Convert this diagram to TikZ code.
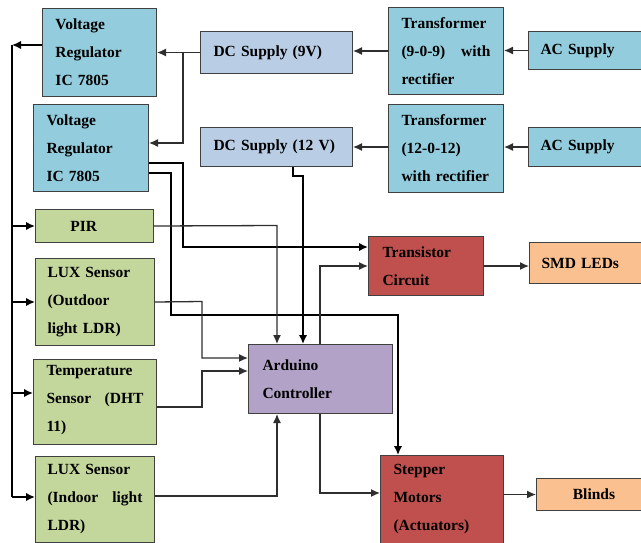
\documentclass[tikz,border=0pt]{standalone}
\usepackage{fontspec}
\setmainfont{Liberation Serif}
\usetikzlibrary{arrows.meta}
\definecolor{aqua}{HTML}{93CDDD}
\definecolor{steel}{HTML}{B9CDE5}
\definecolor{leaf}{HTML}{C3D69B}
\definecolor{lilac}{HTML}{B3A2C7}
\definecolor{brick}{HTML}{C0504D}
\definecolor{peach}{HTML}{FAC08F}
\definecolor{edge}{HTML}{404040}
\definecolor{wire}{HTML}{2E2E2E}
\begin{document}
\begin{tikzpicture}[x=1pt,y=-1pt,
  box/.style={draw=edge, line width=1pt, inner xsep=13pt, inner ysep=0pt,
    align=left, anchor=north west, text=black,
    font=\fontsize{15.5}{28}\selectfont\bfseries},
  thin/.style={draw=wire, line width=1.3pt, -{Latex[length=9pt,width=8pt]}},
  thick/.style={draw=black, line width=2.6pt, -{Latex[length=9pt,width=8.5pt]}},
  thickline/.style={draw=black, line width=2.6pt}]
\useasboundingbox (0,0) rectangle (641,542);
% boxes
\node[box, fill=aqua, text width=88pt, minimum height=88pt] (vr1) at (42,8) {Voltage\\Regulator\\IC 7805};
\node[box, fill=aqua, text width=89pt, minimum height=87pt] (vr2) at (33,104) {Voltage\\Regulator\\IC 7805};
\node[box, fill=steel, text width=126pt, minimum height=42pt] (dc9) at (200,31) {DC Supply (9V)};
\node[box, fill=steel, text width=126pt, minimum height=39pt] (dc12) at (200,127) {DC Supply (12 V)};
\node[box, fill=aqua, text width=89pt, minimum height=87pt] (tr1) at (388,7) {Transformer\\(9-0-9)\hfill with\\rectifier};
\node[box, fill=aqua, text width=89pt, minimum height=88pt] (tr2) at (388,104) {Transformer\\(12-0-12)\\with rectifier};
\node[box, fill=aqua, text width=90pt, minimum height=38pt, inner xsep=12pt] (ac1) at (528,31) {AC Supply};
\node[box, fill=aqua, text width=90pt, minimum height=39pt, inner xsep=12pt] (ac2) at (528,127) {AC Supply};
\node[box, fill=leaf, text width=92pt, minimum height=33pt] (pir) at (35,209) {\hspace*{22pt}PIR};
\node[box, fill=leaf, text width=95pt, minimum height=87pt, inner xsep=12pt] (luxo) at (35,258) {LUX Sensor\\(Outdoor\\light LDR)};
\node[box, fill=leaf, text width=97pt, minimum height=85pt] (temp) at (33,359) {Temperature\\Sensor\hfill(DHT\\11)\rule[-7pt]{0pt}{1pt}};
\node[box, fill=leaf, text width=95pt, minimum height=86pt, inner xsep=12pt] (luxi) at (35,456) {LUX Sensor\\(Indoor\hfill light\\LDR)};
\node[box, fill=lilac, text width=116pt, minimum height=69pt, inner xsep=14pt] (ard) at (248,344) {Arduino\\Controller};
\node[box, fill=brick, text width=87pt, minimum height=59pt, inner xsep=14pt] (trn) at (368,236) {Transistor\\Circuit};
\node[box, fill=peach, text width=90pt, minimum height=41pt, inner xsep=12pt] (smd) at (529,242) {SMD LEDs};
\node[box, fill=brick, text width=97pt, minimum height=88pt] (step) at (380,455) {Stepper\\Motors\\(Actuators)};
\node[box, fill=peach, text width=81pt, minimum height=32pt, align=center] (blinds) at (536,478) {\hspace*{8pt}Blinds};
% bend points
\coordinate (bt) at (12,45);
\coordinate (bb) at (12,497);
\coordinate (bt3) at (12,393);
\coordinate (j2) at (183,143);
\coordinate (v2a) at (183,163);
\coordinate (v2c) at (183,247);
\coordinate (v2b) at (171,173);
\coordinate (v2d) at (171,315);
\coordinate (v2e) at (398,315);
\coordinate (d1) at (293,176);
\coordinate (d2) at (303,176);
\coordinate (p1) at (277,225.5);
\coordinate (l1) at (202,301.5);
\coordinate (l2) at (202,358);
\coordinate (t1) at (202,407);
\coordinate (t2) at (202,371);
\coordinate (i1) at (277,496);
\coordinate (a1) at (320,266);
\coordinate (a2) at (320,493);
% supply chain
\draw[thin] (ac1.west) -- (ac1.west -| tr1.east);
\draw[thin] (tr1.west) -- (tr1.west -| dc9.east);
\draw[thin] (ac2.west) -- (ac2.west -| tr2.east);
\draw[thin] (tr2.west |- ac2.west) -- (ac2.west -| dc12.east);
\draw[thin] (dc9.west) -- (dc9.west -| vr1.east);
\draw[thin] (dc9.west -| j2) -- (j2) -- (vr2.east |- j2);
% regulator 1 bus
\draw[thick] (vr1.west |- bt) -- (bt);
\draw[thickline] (bt) -- (bb);
\draw[thick] (pir.west -| bt) -- (pir.west);
\draw[thick] (luxo.west -| bt) -- (luxo.west);
\draw[thick] (bt3) -- (temp.west |- bt3);
\draw[thick] (bb) -- (luxi.west |- bb);
% regulator 2 outputs
\draw[thick] (vr2.east |- v2a) -- (v2a) -- (v2c) -- (trn.west |- v2c);
\draw[thick] (vr2.east |- v2b) -- (v2b) -- (v2d) -- (v2e) -- (step.north -| v2e);
% DC 12 V to Arduino
\draw[thick] (dc12.south -| d1) -- (d1) -- (d2) -- (ard.north -| d2);
% sensors to Arduino
\draw[thin] (pir.east) -- (p1) -- (ard.north -| p1);
\draw[thin] (luxo.east) -- (l1) -- (l2) -- (ard.west |- l2);
\draw[thin] (temp.east |- t1) -- (t1) -- (t2) -- (ard.west |- t2);
\draw[thin] (luxi.east |- i1) -- (i1) -- (ard.south -| i1);
% Arduino outputs
\draw[thin] (ard.north -| a1) -- (a1) -- (trn.west |- a1);
\draw[thin] (ard.south -| a2) -- (a2) -- (step.west |- a2);
\draw[thin] (trn.east |- a1) -- (smd.west |- a1);
\draw[thin] (blinds.west -| step.east) -- (blinds.west);
\end{tikzpicture}
\end{document}
